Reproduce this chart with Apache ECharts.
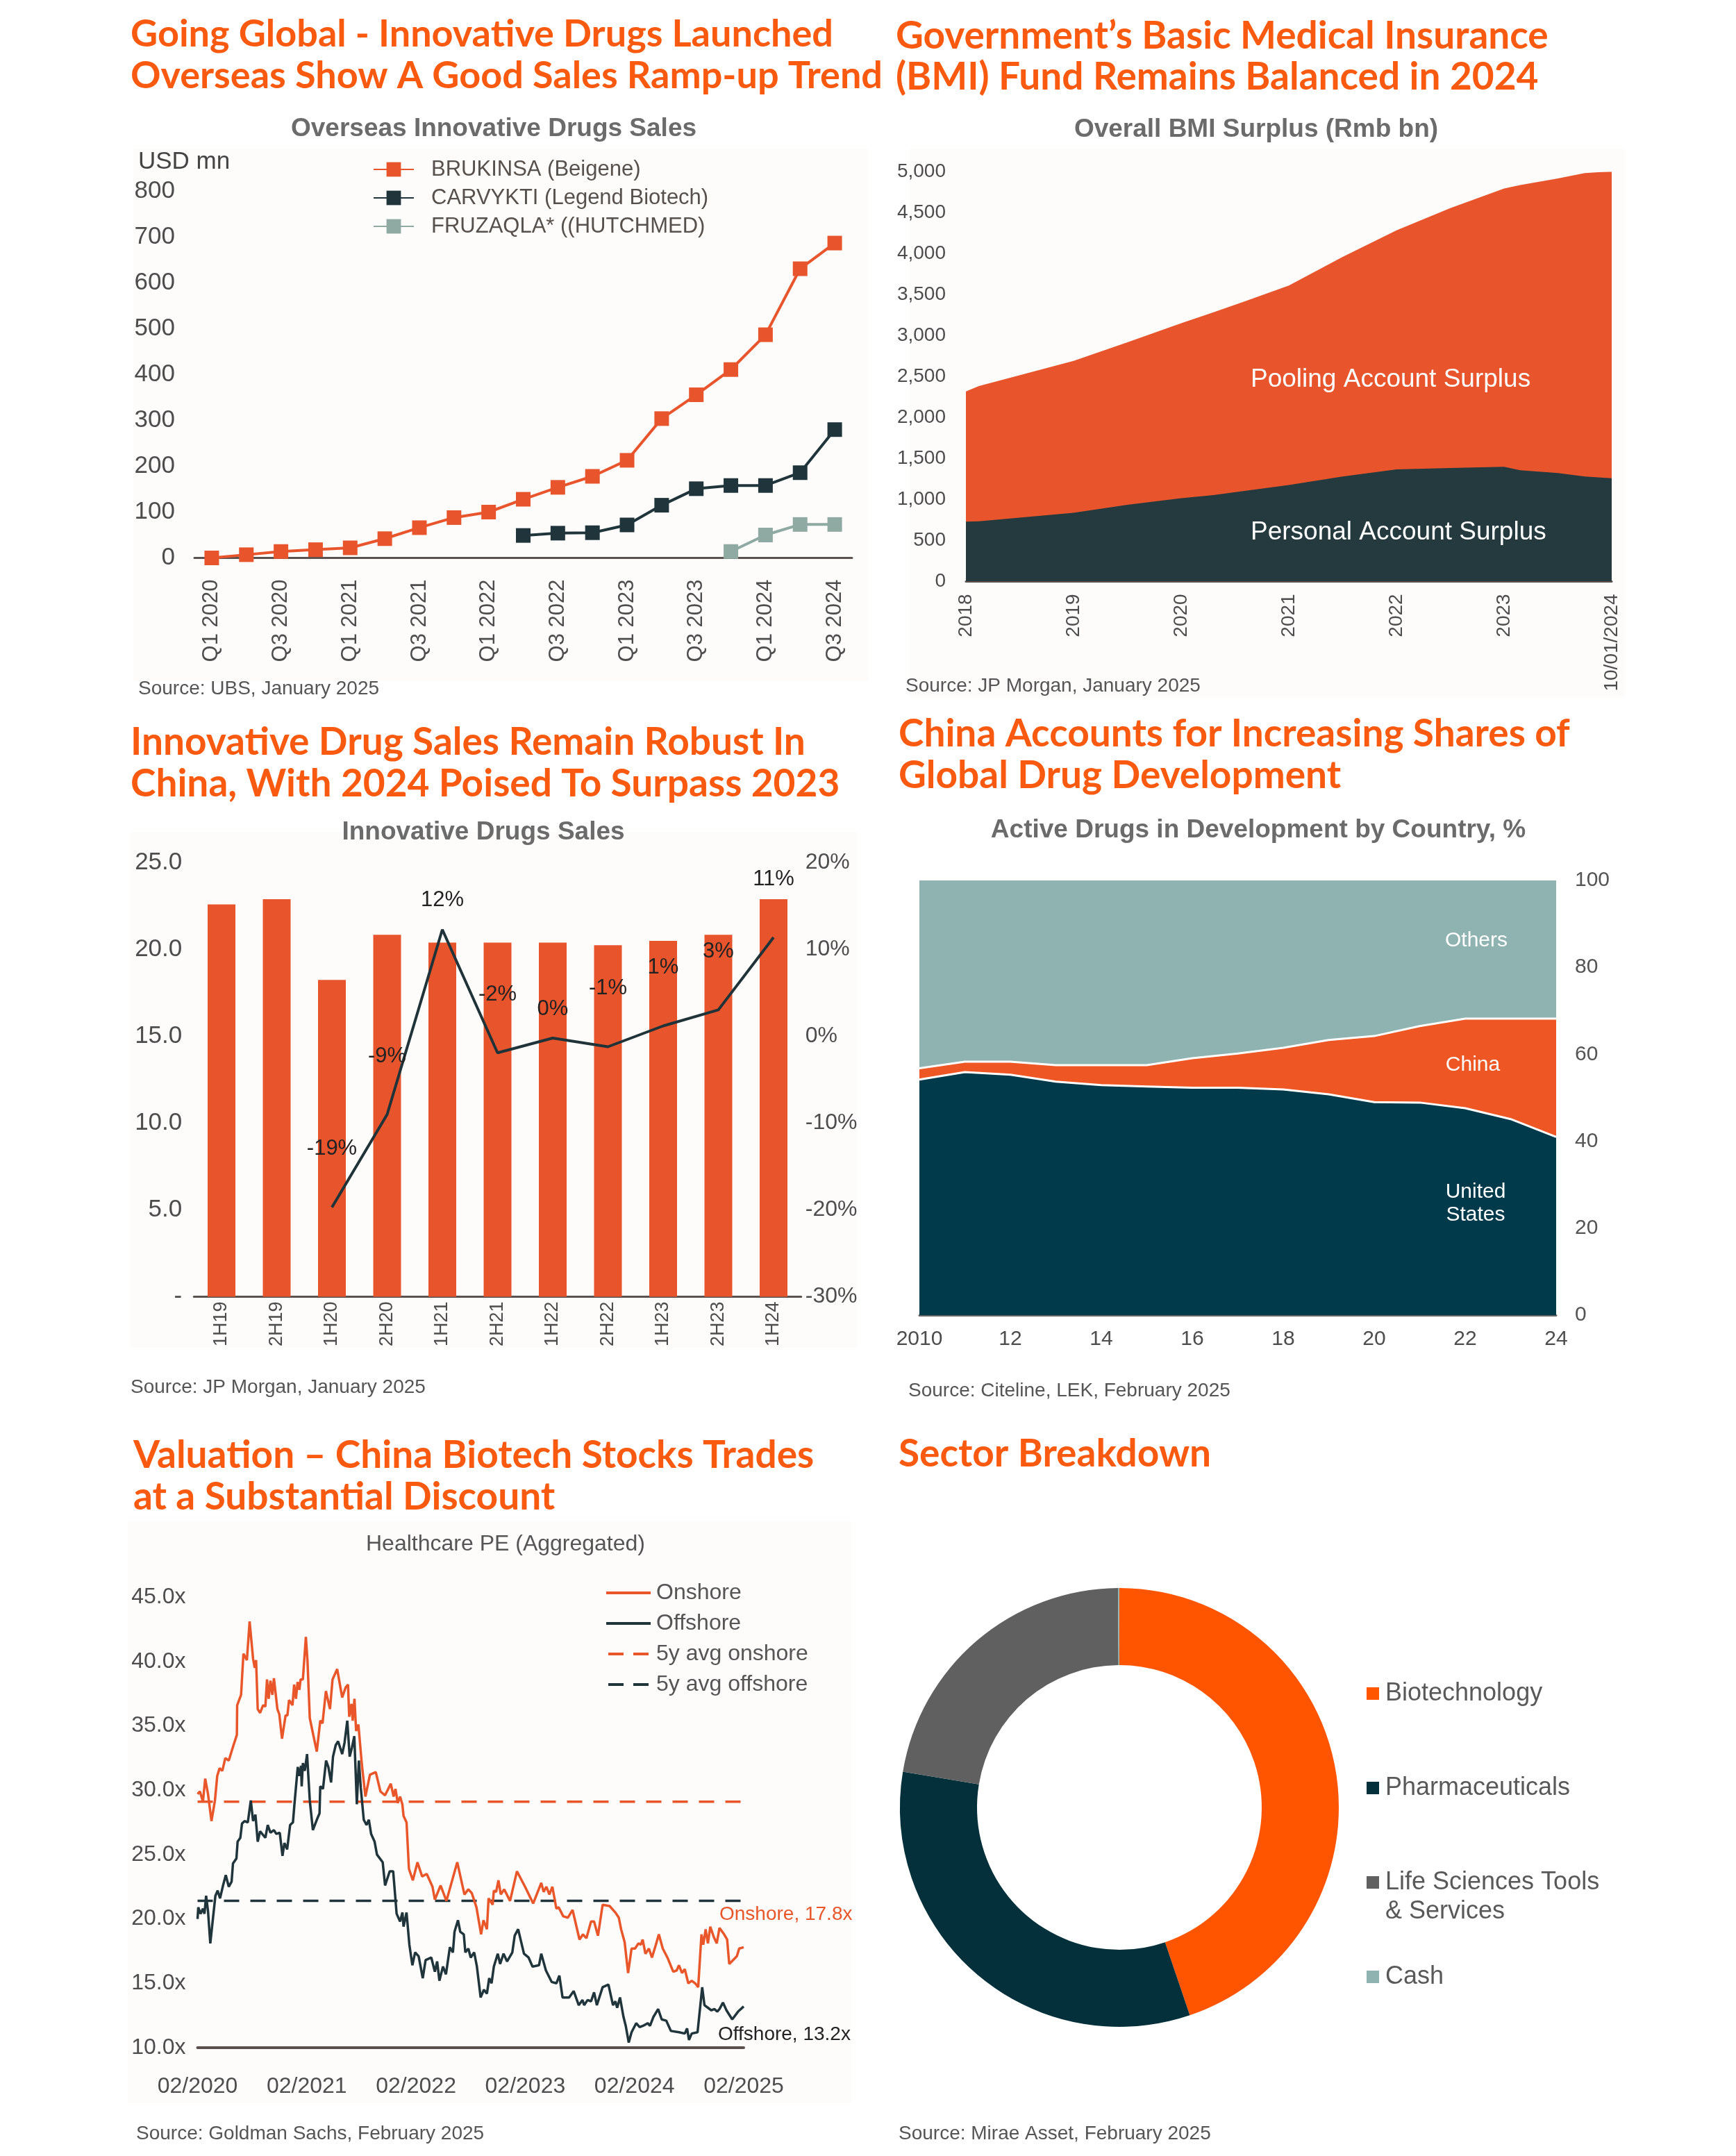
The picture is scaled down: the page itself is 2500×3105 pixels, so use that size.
<!DOCTYPE html>
<html><head><meta charset="utf-8">
<script src="https://cdn.jsdelivr.net/npm/echarts@6/dist/echarts.min.js"></script>
<style>html,body{margin:0;padding:0;background:#fff}#c{width:2500px;height:3105px}</style>
</head><body><div id="c"></div>
<script>
// ---------- Chart 1: Overseas innovative drug sales (USD mn) ----------
const quarters = ['Q1 2020','Q2 2020','Q3 2020','Q4 2020','Q1 2021','Q2 2021','Q3 2021','Q4 2021','Q1 2022','Q2 2022','Q3 2022','Q4 2022','Q1 2023','Q2 2023','Q3 2023','Q4 2023','Q1 2024','Q2 2024','Q3 2024'];
const brukinsa = [0, 7, 14, 18, 22, 42, 66, 88, 100, 128, 154, 178, 213, 304, 356, 411, 487, 631, 687];
const carvykti = [null,null,null,null,null,null,null,null,null, 49, 54, 55, 72, 115, 151, 158, 158, 186, 280];
const fruzaqla = [null,null,null,null,null,null,null,null,null,null,null,null,null,null,null, 14, 50, 73, 73];

// ---------- Chart 2: BMI surplus (Rmb bn) ----------
const bmiYears    = [2018, 2018.12, 2019, 2019.5, 2020, 2020.3, 2020.6, 2021, 2021.5, 2022, 2022.5, 2023, 2023.15, 2023.5, 2023.75, 2024];
const bmiPersonal = [730, 735, 838, 935, 1016, 1054, 1108, 1178, 1281, 1368, 1384, 1400, 1357, 1324, 1281, 1259];
const bmiPooling  = [1589, 1649, 1854, 1984, 2135, 2232, 2314, 2433, 2681, 2918, 3173, 3395, 3481, 3595, 3703, 3746];

// ---------- Chart 3: Innovative drug sales in China ----------
const halves = ['1H19','2H19','1H20','2H20','1H21','2H21','1H22','2H22','1H23','2H23','1H24'];
const salesValues = [22.6, 22.9, 18.25, 20.85, 20.4, 20.4, 20.4, 20.25, 20.5, 20.85, 22.9];
const growthValues = [null, null, -19.7, -9.0, 12.3, -1.9, -0.2, -1.2, 1.2, 3.05, 11.4];
const growthLabels = ['', '', '-19%', '-9%', '12%', '-2%', '0%', '-1%', '1%', '3%', '11%'];

// ---------- Chart 4: Active drugs in development by country (%) ----------
const devYears  = ['2010','2011','2012','2013','2014','2015','2016','2017','2018','2019','2020','2021','2022','2023','2024'];
const devUS     = [54.2, 55.9, 55.3, 53.7, 52.9, 52.6, 52.3, 52.3, 51.9, 50.8, 49.0, 48.9, 47.6, 45.1, 41.0];
const devChina  = [2.6, 2.4, 3.0, 3.8, 4.6, 4.9, 6.8, 7.9, 9.6, 12.5, 15.2, 17.6, 20.6, 23.1, 27.2];
const devOthers = [43.2, 41.7, 41.7, 42.5, 42.5, 42.5, 40.9, 39.8, 38.5, 36.7, 35.8, 33.5, 31.8, 31.8, 31.8];

// ---------- Chart 5: Healthcare PE (months since 02/2020, PE) ----------
const peTickLabels = ['02/2020','02/2021','02/2022','02/2023','02/2024','02/2025'];
const peOnshore = [[0,29.7],[0.26,29.9],[0.59,29.1],[0.84,30.9],[1.15,29.7],[1.53,27.6],[1.91,29.2],[2.16,31.1],[2.42,31.7],[2.72,31.5],[3.05,32.5],[3.43,32.3],[3.82,33.2],[4.32,34.3],[4.35,36.6],[4.78,37.4],[5.04,40.6],[5.42,40.1],[5.72,43.1],[6.1,40.2],[6.28,39.5],[6.43,40.1],[6.61,36.3],[6.87,36.0],[7.2,36.6],[7.45,36.5],[7.63,38.6],[7.81,37.1],[8.01,38.5],[8.22,37.4],[8.39,38.7],[8.77,36.3],[8.98,35.9],[9.28,34.0],[9.67,35.8],[9.87,35.8],[10.05,37.0],[10.43,36.6],[10.61,38.2],[10.81,37.1],[10.99,38.4],[11.19,37.8],[11.32,38.6],[11.57,38.6],[11.9,41.9],[12.08,40.0],[12.33,35.6],[12.71,34.3],[13.1,33.0],[13.48,35.4],[13.73,35.2],[14.1,37.7],[14.55,36.3],[14.83,38.6],[15.34,39.4],
  [15.89,37.2],[16.28,38.0],[16.53,38.2],[16.66,35.7],[16.91,36.7],[17.04,35.4],[17.24,37.1],[17.42,34.6],[17.67,35.1],[18.05,32.0],[18.44,29.5],[18.94,31.2],[19.58,31.4],[20.09,29.9],[20.6,29.6],[21.23,30.5],[21.54,29.5],[21.74,30.1],[22.0,29.0],[22.25,29.5],[22.5,28.9],[22.63,28.0],[22.96,27.5],[23.22,23.9],[23.65,23.0],[24.16,24.4],[24.67,23.3],[25.18,23.5],[25.81,22.5],[26.07,21.5],[26.7,22.6],[27.34,21.4],[28.53,24.4],[29.32,21.9],[29.75,22.3],
  [30.13,22.0],[30.64,20.9],[31.15,18.8],[31.41,19.9],[31.79,19.2],[31.97,21.6],[32.42,21.1],[32.55,22.2],[32.8,22.1],[33.06,23.0],[33.31,21.9],[33.69,22.3],[34.33,21.4],[35.09,23.7],[35.98,22.5],[36.87,21.2],[37.76,22.8],[38.02,22.1],[38.32,22.5],[38.65,21.9],[38.98,22.5],[39.42,20.8],[39.67,20.9],[40.18,20.2],[40.69,20.1],[41.2,20.7],[41.96,18.4],[42.34,18.8],[42.72,18.5],[43.23,19.8],[43.56,19.8],[43.99,18.7],[44.5,21.1],[45.27,21.0],
  [45.9,20.5],[46.28,20.1],[46.53,19.2],[46.92,18.2],[47.3,15.8],[47.68,17.7],[48.06,17.7],[48.44,18.1],[48.7,18.0],[48.9,18.4],[49.2,17.3],[49.59,17.7],[49.92,17.0],[50.35,18.0],[50.68,18.8],[51.11,17.7],[51.62,17.0],[52.26,15.9],[52.64,16.0],[52.89,16.4],[53.22,15.8],[53.53,16.1],[53.91,15.0],[54.29,15.2],[54.67,15.0],[55.0,14.7],[55.36,18.8],[55.56,18.0],[55.82,19.2],[56.07,18.1],[56.33,19.4],[56.71,18.6],[57.04,18.1],[57.34,19.3],[57.85,18.8],[58.18,18.4],[58.41,16.5],[59.25,17.1],[59.5,17.7],[60.0,17.8]];
const peOffshore = [[0,20.0],[0.08,20.9],[0.33,20.4],[0.59,20.8],[0.76,20.4],[0.94,21.8],[1.15,20.6],[1.4,18.1],[1.7,20.1],[1.96,21.8],[2.21,22.2],[2.47,21.6],[2.8,22.6],[3.1,23.4],[3.43,22.5],[3.74,22.9],[3.89,24.3],[4.27,24.7],[4.4,26.0],[4.7,26.3],[4.88,27.4],[5.16,27.6],[5.52,27.5],[5.85,29.2],[6.1,27.6],[6.36,28.1],[6.61,26.0],[6.87,26.8],[7.45,26.3],[7.71,27.3],[8.01,26.7],[8.39,26.9],[8.65,26.6],[9.03,26.7],[9.33,24.9],[9.54,25.9],[9.84,25.4],[10.17,27.3],[10.48,27.5],[10.68,29.2],[11.01,31.8],[11.19,31.1],[11.37,31.9],[11.44,30.3],[11.57,32.1],[11.78,31.5],[12.03,32.8],[12.33,29.2],[12.67,26.9],[13.1,27.7],[13.4,28.2],[13.48,30.3],[13.78,30.1],[14.12,32.3],[14.37,31.8],[14.67,30.6],[14.88,32.6],
  [15.18,33.5],[15.44,33.8],[15.89,32.8],[16.15,33.7],[16.45,35.4],[16.71,32.6],[16.96,33.3],[17.22,34.2],[17.5,28.9],[17.72,32.3],[17.93,30.2],[18.26,27.7],[18.56,27.3],[18.82,27.7],[19.07,26.6],[19.45,26.0],[19.71,25.0],[20.34,24.4],[20.6,22.6],[21.11,23.7],[21.49,23.7],[21.87,20.4],[22.25,19.8],[22.51,20.5],[22.63,19.4],[22.96,20.5],[23.27,18.0],[23.6,16.4],[23.9,17.4],[24.29,17.1],[24.74,15.4],[25.05,16.8],[25.68,17.0],[26.07,15.9],[26.32,16.7],[26.57,15.2],[26.96,16.3],[27.29,15.7],[27.72,17.8],[28.05,17.4],[28.23,19.0],[28.61,19.9],[28.86,19.0],[29.25,18.8],[29.42,17.4],[29.75,17.7],[30.01,17.0],
  [30.39,17.4],[30.69,16.3],[31.1,13.9],[31.46,14.5],[31.79,14.2],[32.04,15.4],[32.3,15.0],[32.55,16.3],[32.98,17.3],[33.24,16.5],[33.62,17.3],[34.0,16.7],[34.58,17.4],[34.84,18.7],[35.22,19.2],[35.86,17.3],[36.37,17.0],[36.8,16.3],[37.51,16.4],[37.76,17.3],[38.27,16.0],[38.91,15.1],[39.42,15.0],[39.75,15.6],[40.1,13.9],[40.82,13.9],[41.32,14.4],[41.88,13.3],[42.29,13.7],[42.47,13.3],[42.85,13.7],[43.23,13.6],[43.56,14.3],[43.87,13.3],[44.5,14.7],[45.14,14.9],
  [45.64,13.3],[45.9,13.6],[46.1,13.1],[46.41,13.9],[46.79,12.4],[47.04,11.7],[47.37,10.4],[47.68,11.2],[48.19,11.9],[48.57,11.6],[48.95,11.7],[49.46,11.9],[49.71,11.7],[50.09,12.4],[50.6,13.0],[50.99,12.2],[51.49,12.1],[52.0,11.3],[52.89,11.2],[53.53,11.1],[53.78,11.5],[53.99,10.6],[54.29,11.1],[54.93,11.2],[55.18,12.9],[55.44,14.7],[55.69,13.3],[56.07,13.1],[56.45,12.9],[56.78,13.0],[57.09,12.8],[57.34,13.0],[57.72,13.5],[58.11,12.9],[58.74,12.2],[59.38,12.8],[60.0,13.2]];
const peAvgOnshore = 29.1;
const peAvgOffshore = 21.4;
const peMonthsSpan = [0, 60];

// ---------- Chart 6: Sector breakdown (%) ----------
const sectorNames  = ['Biotechnology', 'Pharmaceuticals', 'Life Sciences Tools & Services', 'Cash'];
const sectorValues = [44.8, 32.8, 22.3, 0.1];

// ---------- styles ----------
const ORANGE_T = '#FA5A0F';
const C_OR = '#E8552D', C_DK = '#1F353B', C_GR = '#8FA9A3';
const AX = '#4d4d4d';
const BASE = 'Liberation Sans, Arial, sans-serif';
const TFONT = 'Lato, "Open Sans", sans-serif';

function txt(text, x, y, o) {
  o = o || {};
  return { type: 'text', x: x, y: y, z: 100, silent: true,
    style: { text: text, fontSize: o.size || 28, fontWeight: o.weight || 'normal',
      fontFamily: o.family || BASE, fill: o.color || '#555',
      align: o.align || 'left', textAlign: o.align || 'left',
      verticalAlign: 'middle', textVerticalAlign: 'middle', lineHeight: o.lh } };
}
function title(text, x, y, size) { return txt(text, x, y, { size: size || 55, weight: 'bold', family: TFONT, color: ORANGE_T }); }
function sub(text, x, y) { return txt(text, x, y, { size: 37, weight: 'bold', color: '#6b6b6b', align: 'center' }); }
function bg(x, y, w, h) { return { type: 'rect', z: -100, silent: true, shape: { x: x, y: y, width: w, height: h }, style: { fill: '#fdfcfa' } }; }

const graphic = [
  bg(192, 214, 1058, 768), bg(1310, 214, 1030, 790), bg(188, 1198, 1046, 743), bg(184, 2191, 1042, 838),
  title('Going Global - Innovative Drugs Launched', 188, 50, 54),
  title('Overseas Show A Good Sales Ramp-up Trend', 188, 110, 54),
  title('Government\u2019s Basic Medical Insurance', 1290, 52),
  title('(BMI) Fund Remains Balanced in 2024', 1290, 111),
  title('Innovative Drug Sales Remain Robust In', 188, 1069),
  title('China, With 2024 Poised To Surpass 2023', 188, 1129),
  title('China Accounts for Increasing Shares of', 1294, 1057),
  title('Global Drug Development', 1294, 1117),
  title('Valuation \u2013 China Biotech Stocks Trades', 192, 2096),
  title('at a Substantial Discount', 192, 2156),
  title('Sector Breakdown', 1294, 2094),
  sub('Overseas Innovative Drugs Sales', 711, 186),
  sub('Overall BMI Surplus (Rmb bn)', 1809, 187),
  sub('Innovative Drugs Sales', 696, 1199),
  sub('Active Drugs in Development by Country, %', 1812, 1196),
  txt('Healthcare PE (Aggregated)', 728, 2224, { size: 32, color: '#555', align: 'center' }),
  txt('USD mn', 199, 233, { size: 35, color: '#444' }),
  txt('Pooling Account Surplus', 1801, 547, { size: 37, color: '#ffffff' }),
  txt('Personal Account Surplus', 1801, 767, { size: 37, color: '#ffffff' }),
  txt('Others', 2126, 1355, { size: 30, color: '#ffffff', align: 'center' }),
  txt('China', 2121, 1534, { size: 30, color: '#ffffff', align: 'center' }),
  txt('United\nStates', 2125, 1733, { size: 30, color: '#ffffff', align: 'center', lh: 33 }),
  txt('Onshore, 17.8x', 1036, 2757, { size: 28, color: '#E8562A' }),
  txt('Offshore, 13.2x', 1034, 2930, { size: 28, color: '#222' }),
  txt('Source: UBS, January 2025', 199, 992),
  txt('Source: JP Morgan, January 2025', 1304, 988),
  txt('Source: JP Morgan, January 2025', 188, 1998),
  txt('Source: Citeline, LEK, February 2025', 1308, 2003),
  txt('Source: Goldman Sachs, February 2025', 196, 3073),
  txt('Source: Mirae Asset, February 2025', 1294, 3073)
];

const noSplit = { show: false };
const lbl = (size, margin, extra) => Object.assign({ fontSize: size, color: AX, fontFamily: BASE, margin: margin }, extra || {});

const grids = [
  { left: 280, top: 275.5, width: 947, height: 528 },
  { left: 1391, top: 247.4, width: 930, height: 590 },
  { left: 279.25, top: 1242.5, width: 874.5, height: 625 },
  { left: 1324, top: 1268, width: 917, height: 626 },
  { left: 284.5, top: 2300, width: 786.5, height: 649 }
].map(g => Object.assign({ outerBoundsMode: 'none', containLabel: false }, g));

const xAxes = [
  { type: 'category', gridIndex: 0, data: quarters, boundaryGap: true,
    axisLine: { lineStyle: { color: '#5a524e', width: 3 } }, axisTick: { show: false },
    axisLabel: lbl(31, 31, { rotate: 90, interval: 1 }), splitLine: noSplit },
  { type: 'value', gridIndex: 1, min: 2018, max: 2024, interval: 1,
    axisLine: { show: true, lineStyle: { color: '#555', width: 3 } }, axisTick: { show: false },
    axisLabel: lbl(28, 18, { rotate: 90, formatter: v => v === 2024 ? '10/01/2024' : String(v) }), splitLine: noSplit },
  { type: 'category', gridIndex: 2, data: halves, boundaryGap: true,
    axisLine: { lineStyle: { color: '#5a524e', width: 3 } }, axisTick: { show: false },
    axisLabel: lbl(27, 7, { rotate: 90, interval: 0 }), splitLine: noSplit },
  { type: 'category', gridIndex: 3, data: devYears, boundaryGap: false,
    axisLine: { lineStyle: { color: '#666', width: 3 } }, axisTick: { show: false },
    axisLabel: lbl(30, 20, { interval: 1, formatter: v => v === '2010' ? v : v.slice(2) }), splitLine: noSplit },
  { type: 'value', gridIndex: 4, min: peMonthsSpan[0], max: peMonthsSpan[1], interval: 12,
    axisLine: { show: true, onZero: false, lineStyle: { color: '#5a4f4a', width: 4 } }, axisTick: { show: false },
    axisLabel: lbl(32, 40, { formatter: v => peTickLabels[Math.round(v / 12)] }), splitLine: noSplit }
];

const yAxes = [
  { type: 'value', gridIndex: 0, min: 0, max: 800, interval: 100,
    axisLine: { show: false }, axisTick: { show: false }, axisLabel: lbl(35, 28), splitLine: noSplit },
  { type: 'value', gridIndex: 1, min: 0, max: 5000, interval: 500,
    axisLine: { show: false }, axisTick: { show: false },
    axisLabel: lbl(28, 29, { formatter: v => v.toLocaleString('en-US') }), splitLine: noSplit },
  { type: 'value', gridIndex: 2, min: 0, max: 25, interval: 5,
    axisLine: { show: false }, axisTick: { show: false },
    axisLabel: lbl(35, 17, { formatter: v => v === 0 ? '-' : v.toFixed(1) }), splitLine: noSplit },
  { type: 'value', gridIndex: 2, position: 'right', min: -30, max: 20, interval: 10,
    axisLine: { show: false }, axisTick: { show: false },
    axisLabel: lbl(32, 6, { formatter: v => v + '%' }), splitLine: noSplit },
  { type: 'value', gridIndex: 3, position: 'right', min: 0, max: 100, interval: 20,
    axisLine: { show: false }, axisTick: { show: false }, axisLabel: lbl(30, 27, { color: '#555' }), splitLine: noSplit },
  { type: 'value', gridIndex: 4, min: 10, max: 45, interval: 5,
    axisLine: { show: false }, axisTick: { show: false },
    axisLabel: lbl(32, 17, { formatter: v => v.toFixed(1) + 'x' }), splitLine: noSplit }
];

const qLine = (name, data, color) => ({
  name: name, type: 'line', xAxisIndex: 0, yAxisIndex: 0, data: data, color: color,
  symbol: 'rect', symbolSize: 21, showSymbol: true, connectNulls: false,
  lineStyle: { color: color, width: 4 }, itemStyle: { color: color }, z: 3
});

const growthData = growthValues.map((v, i) => {
  if (v === null) return null;
  const prev = growthValues[i - 1], next = growthValues[i + 1];
  const peak = prev != null && next != null && v > prev && v > next;
  return { value: v, label: { show: true, formatter: growthLabels[i], position: 'top', distance: peak ? 26 : 68 } };
});

// BMI: personal at the bottom, pooling stacked on top of it (total = personal + pooling)
const bmiTotal = bmiPersonal.map((p, i) => p + bmiPooling[i]);

const series = [
  qLine('BRUKINSA (Beigene)', brukinsa, C_OR),
  qLine('CARVYKTI (Legend Biotech)', carvykti, C_DK),
  qLine('FRUZAQLA* ((HUTCHMED)', fruzaqla, C_GR),
  { name: 'Pooling Account Surplus', type: 'line', xAxisIndex: 1, yAxisIndex: 1, symbol: 'none', z: 2,
    data: bmiYears.map((y, i) => [y, bmiTotal[i]]), lineStyle: { width: 0 }, areaStyle: { color: '#E8552D', opacity: 1 } },
  { name: 'Personal Account Surplus', type: 'line', xAxisIndex: 1, yAxisIndex: 1, symbol: 'none', z: 3,
    data: bmiYears.map((y, i) => [y, bmiPersonal[i]]), lineStyle: { width: 0 }, areaStyle: { color: '#243A3F', opacity: 1 } },
  { name: 'Innovative Drugs Sales', type: 'bar', xAxisIndex: 2, yAxisIndex: 2, data: salesValues,
    barWidth: 40, itemStyle: { color: '#E8552D' } },
  { name: 'YoY growth', type: 'line', xAxisIndex: 2, yAxisIndex: 3, data: growthData,
    symbol: 'circle', symbolSize: 1, showSymbol: true, itemStyle: { color: 'rgba(0,0,0,0)' },
    lineStyle: { color: '#1F3338', width: 4 }, z: 5,
    label: { show: true, fontSize: 31, color: '#222', fontFamily: BASE } },
  { name: 'United States', type: 'line', xAxisIndex: 3, yAxisIndex: 4, stack: 'dev', symbol: 'none', data: devUS, z: 4,
    lineStyle: { color: '#ffffff', width: 3 }, areaStyle: { color: '#013A4A', opacity: 1 } },
  { name: 'China', type: 'line', xAxisIndex: 3, yAxisIndex: 4, stack: 'dev', symbol: 'none', data: devChina, z: 3,
    lineStyle: { color: '#ffffff', width: 3 }, areaStyle: { color: '#EE5624', opacity: 1 } },
  { name: 'Others', type: 'line', xAxisIndex: 3, yAxisIndex: 4, stack: 'dev', symbol: 'none', data: devOthers, z: 2,
    lineStyle: { width: 0 }, areaStyle: { color: '#8FB3B1', opacity: 1 } },
  { name: 'Onshore', type: 'line', xAxisIndex: 4, yAxisIndex: 5, data: peOnshore, symbol: 'none', color: '#E8562A',
    lineStyle: { color: '#E8562A', width: 3.5 }, z: 3 },
  { name: 'Offshore', type: 'line', xAxisIndex: 4, yAxisIndex: 5, data: peOffshore, symbol: 'none', color: '#1F353B',
    lineStyle: { color: '#1F353B', width: 3.5 }, z: 3 },
  { name: '5y avg onshore', type: 'line', xAxisIndex: 4, yAxisIndex: 5, symbol: 'none', color: '#E8562A',
    data: peMonthsSpan.map(m => [m, peAvgOnshore]), lineStyle: { color: '#E8562A', width: 3.5, type: [22, 16] }, z: 2 },
  { name: '5y avg offshore', type: 'line', xAxisIndex: 4, yAxisIndex: 5, symbol: 'none', color: '#1F353B',
    data: peMonthsSpan.map(m => [m, peAvgOffshore]), lineStyle: { color: '#1F353B', width: 3.5, type: [22, 16] }, z: 2 },
  { name: 'Sector', type: 'pie', center: [1612, 2603], radius: [205, 316], startAngle: 90, clockwise: true,
    label: { show: false }, labelLine: { show: false }, emphasis: { disabled: true },
    data: sectorNames.map((n, i) => ({ name: n, value: sectorValues[i],
      itemStyle: { color: ['#FF5500', '#03303A', '#606060', '#8FB3B1'][i] } })) }
];

const legendText = (size, extra) => Object.assign({ fontSize: size, color: '#57514e', fontFamily: BASE }, extra || {});
const sectorRows = [2439, 2575, 2711, 2847];
const SOLID_ICON = 'path://M0,0h64v4h-64z';
const DASH_ICON = 'path://M0,0h22v4h-22zM36,0h22v4h-22z';
const legends = [
  { orient: 'vertical', left: 537, top: 228, padding: 0, itemWidth: 58, itemHeight: 26, itemGap: 9,
    textStyle: legendText(31, { lineHeight: 32, padding: [0, 0, 0, 20] }), selectedMode: false,
    data: ['BRUKINSA (Beigene)', 'CARVYKTI (Legend Biotech)', 'FRUZAQLA* ((HUTCHMED)'] },
  { orient: 'vertical', left: 873, top: 2277.5, padding: 0, itemWidth: 64, itemHeight: 4, itemGap: 11,
    textStyle: legendText(32, { lineHeight: 33, color: '#555', padding: [0, 0, 0, 3] }), selectedMode: false,
    data: [{ name: 'Onshore', icon: SOLID_ICON }, { name: 'Offshore', icon: SOLID_ICON },
           { name: '5y avg onshore', icon: DASH_ICON }, { name: '5y avg offshore', icon: DASH_ICON }] }
].concat(sectorNames.map((n, i) => {
  const two = n.indexOf('&') > 0;
  return { orient: 'vertical', left: 1968, top: two ? sectorRows[i] - 63 : sectorRows[i] - 20, padding: 0,
    icon: 'rect', itemWidth: 18, itemHeight: 18, selectedMode: false,
    formatter: name => name.indexOf(' & ') > 0 ? '\n' + name.replace(' & ', '\n& ') : name,
    textStyle: legendText(36, { lineHeight: two ? 42 : 40, color: '#595959', padding: [0, 0, 0, 4] }),
    data: [n] };
}));

const chart = echarts.init(document.getElementById('c'), null, { renderer: 'canvas' });
chart.setOption({
  animation: false,
  backgroundColor: '#ffffff',
  textStyle: { fontFamily: BASE },
  graphic: graphic,
  grid: grids,
  xAxis: xAxes,
  yAxis: yAxes,
  legend: legends,
  series: series
});
</script></body></html>
